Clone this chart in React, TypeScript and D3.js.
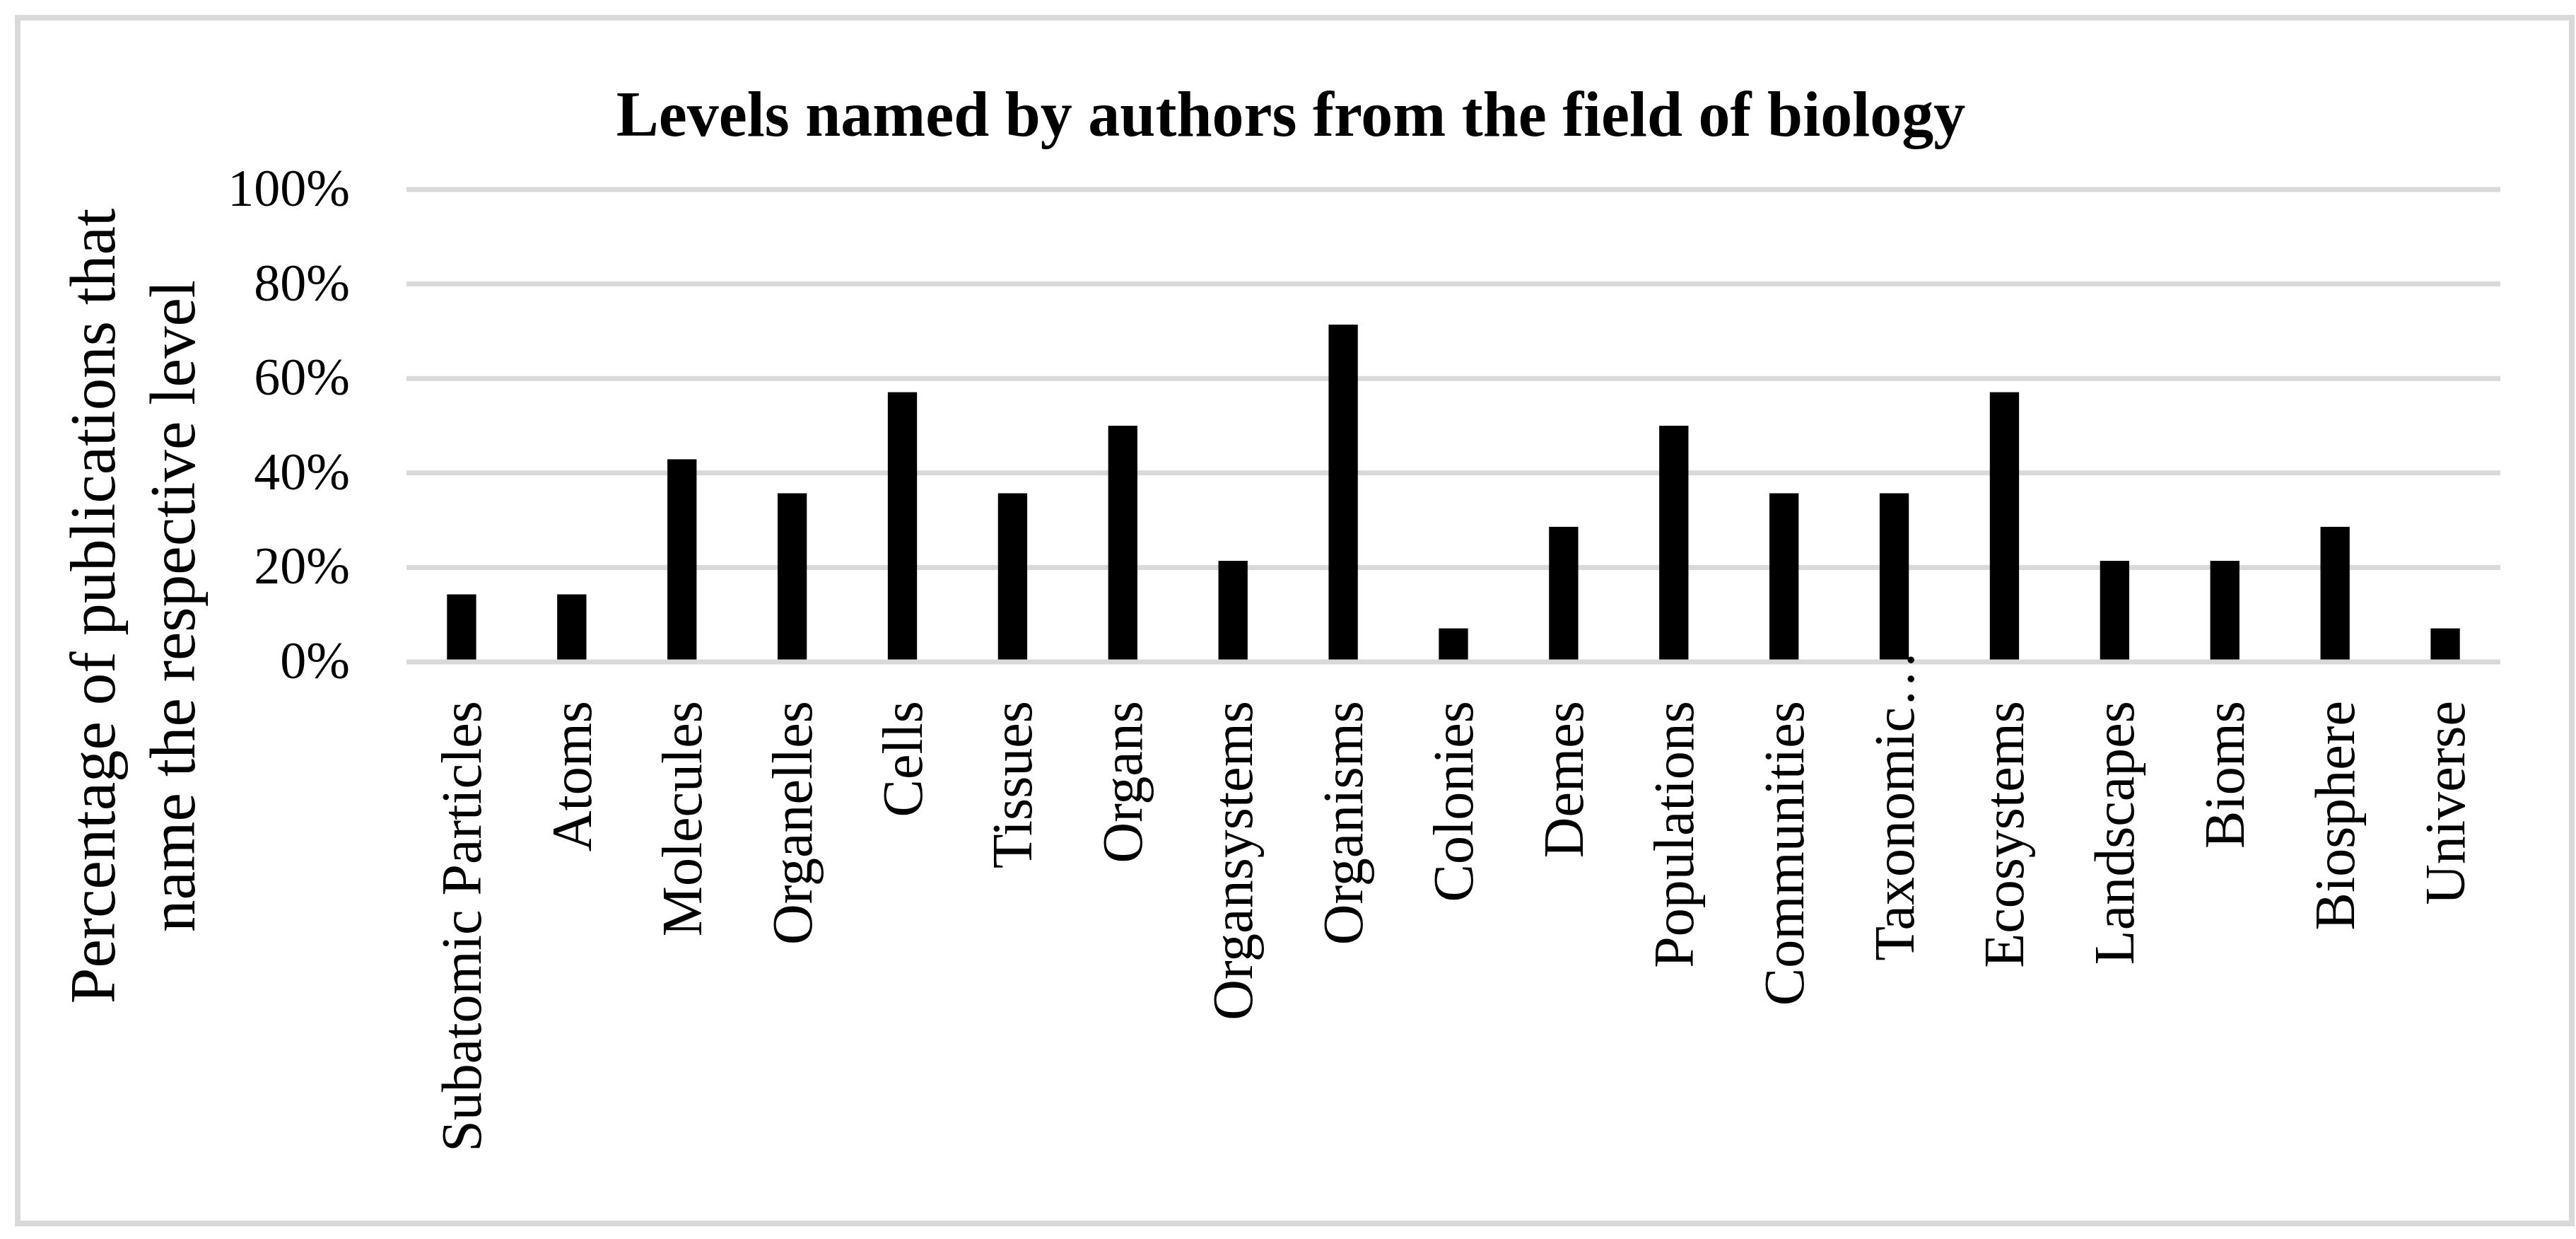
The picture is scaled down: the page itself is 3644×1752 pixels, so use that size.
import React from "react";
import * as d3 from "d3";

const categories: string[] = [
  "Subatomic Particles", "Atoms", "Molecules", "Organelles", "Cells", "Tissues",
  "Organs", "Organsystems", "Organisms", "Colonies", "Demes", "Populations",
  "Communities", "Taxonomic…", "Ecosystems", "Landscapes", "Bioms", "Biosphere", "Universe",
];
const values: number[] = [
  14.3, 14.3, 42.9, 35.7, 57.1, 35.7, 50.0, 21.4, 71.4, 7.1, 28.6, 50.0,
  35.7, 35.7, 57.1, 21.4, 21.4, 28.6, 7.1,
];
const yTicks: number[] = [0, 20, 40, 60, 80, 100];
const title = "Levels named by authors from the field of biology";
const yTitleLines: string[] = ["Percentage of publications that", "name the respective level"];

const W = 3644;
const H = 1752;
const FONT = "'Liberation Serif', 'Times New Roman', serif";

export default function App() {
  const x0 = 575;
  const x1 = 3537;
  const x = d3.scaleBand<string>().domain(categories).range([x0, x1]).paddingInner(0.735).paddingOuter(0.3675);
  const y = d3.scaleLinear().domain([0, 100]).range([936, 268]);
  const grid = "#d9d9d9";
  const labelTop = 991;

  return (
    <svg width={W} height={H} style={{ position: "absolute", left: 0, top: 0, background: "#fff" }} fontFamily={FONT}>
      <rect x={0} y={0} width={W} height={H} fill="#fff" />
      <rect x={25} y={25} width={3613} height={1705} fill="none" stroke={grid} strokeWidth={8} />
      <text x={1826} y={192} textAnchor="middle" fontSize={90} fontWeight="bold" fill="#000">{title}</text>

      {yTicks.filter((t) => t > 0).map((t) => (
        <line key={"g" + t} x1={x0} x2={x1} y1={y(t)} y2={y(t)} stroke={grid} strokeWidth={7} />
      ))}

      {categories.map((c, i) => (
        <rect key={c} x={x(c)} y={y(values[i])} width={x.bandwidth()} height={y(0) - y(values[i])} fill="#000" />
      ))}
      <line x1={x0} x2={x1} y1={y(0)} y2={y(0)} stroke={grid} strokeWidth={7} />

      {yTicks.map((t) => (
        <text key={"t" + t} x={495} y={y(t) + 23} textAnchor="end" fontSize={74} fill="#000">{t + "%"}</text>
      ))}

      {categories.map((c) => {
        const cx = (x(c) as number) + x.bandwidth() / 2;
        const top = c.endsWith("…") ? labelTop - 71 : labelTop;
        return (
          <text key={"l" + c} transform={`translate(${cx + 27},${top}) rotate(-90)`} textAnchor="end" fontSize={80} fill="#000">{c}</text>
        );
      })}

      {yTitleLines.map((line, i) => (
        <text key={"y" + i} transform={`translate(${162 + i * 113},857) rotate(-90)`} textAnchor="middle" fontSize={91} fill="#000">{line}</text>
      ))}
    </svg>
  );
}
